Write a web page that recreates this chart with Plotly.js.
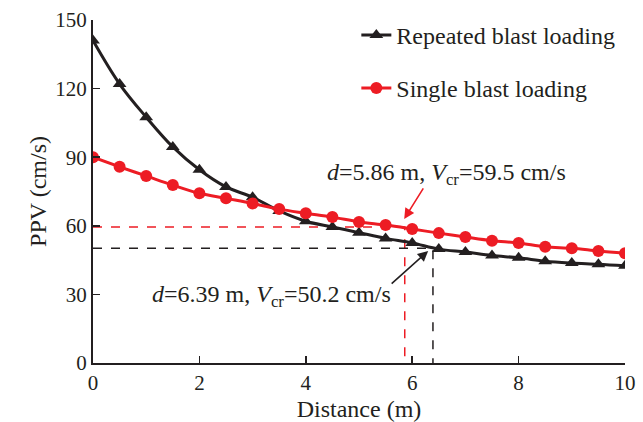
<!DOCTYPE html>
<html>
<head>
<meta charset="utf-8">
<script src="https://cdn.plot.ly/plotly-3.0.1.min.js"></script>
<style>html,body{margin:0;padding:0;background:#fff;}#chart{width:643px;height:422px;}</style>
</head>
<body>
<div id="chart"></div>
<script>
const distance = [0,0.5,1,1.5,2,2.5,3,3.5,4,4.5,5,5.5,6,6.5,7,7.5,8,8.5,9,9.5,10];
const repeatedPPV = [141,122,107.5,94.5,84.5,77,72.5,66.5,62,59.5,57,54.5,52.5,49.8,48.5,47,46,44.5,43.7,43.2,42.5];
const singlePPV = [90,85.8,81.8,77.8,74.2,72,69.8,67.3,65.5,63.8,61.7,60.3,58.6,56.8,55.1,53.5,52.5,50.8,50.2,49,48];
const singleCritD = 5.86, singleCritV = 59.5;
const repeatedCritD = 6.39, repeatedCritV = 50.2;
const xTicks = [0,2,4,6,8,10];
const yTicks = [0,30,60,90,120,150];

const family = '"Liberation Serif", "Times New Roman", serif';
const font = {family: family, size: 24, color: '#231f20'};
const tickFont = {family: family, size: 21, color: '#231f20'};

const traces = [
  {x:[0,singleCritD,singleCritD], y:[singleCritV,singleCritV,0], mode:'lines',
   line:{color:'#ed1c24', width:1.5, dash:'dash'}, showlegend:false, hoverinfo:'skip'},
  {x:[0,repeatedCritD,repeatedCritD], y:[repeatedCritV,repeatedCritV,0], mode:'lines',
   line:{color:'#231f20', width:1.5, dash:'dash'}, showlegend:false, hoverinfo:'skip'},
  {x:distance, y:repeatedPPV, mode:'lines+markers', name:'Repeated blast loading',
   line:{color:'#231f20', width:3, shape:'spline'}, marker:{symbol:'triangle-up', size:12, color:'#231f20'},
   legend:'legend'},
  {x:distance, y:singlePPV, mode:'lines+markers', name:'Single blast loading',
   line:{color:'#ed1c24', width:3, shape:'spline'}, marker:{symbol:'circle', size:12, color:'#ed1c24'},
   legend:'legend2'}
];

const layout = {
  width:643, height:422,
  margin:{l:93, r:18, t:20, b:59},
  paper_bgcolor:'#fff', plot_bgcolor:'#fff',
  font: font,
  xaxis:{range:[0,10], tickvals:xTicks, ticks:'inside', ticklen:7, tickwidth:1.5, tickcolor:'#231f20',
    showline:true, linecolor:'#231f20', linewidth:2, showgrid:false, zeroline:false,
    title:{text:'Distance (m)', font:font, standoff:8}, tickfont:tickFont},
  yaxis:{range:[0,150], tickvals:yTicks, ticks:'inside', ticklen:7, tickwidth:1.5, tickcolor:'#231f20',
    showline:true, linecolor:'#231f20', linewidth:2, showgrid:false, zeroline:false,
    title:{text:'PPV (cm/s)', font:font, standoff:2}, tickfont:tickFont},
  legend:{x:0.495, y:1.021, xanchor:'left', yanchor:'top', bgcolor:'rgba(0,0,0,0)', font:font, itemwidth:30, tracegroupgap:0},
  legend2:{x:0.495, y:0.866, xanchor:'left', yanchor:'top', bgcolor:'rgba(0,0,0,0)', font:font, itemwidth:30, tracegroupgap:0},
  annotations:[
    {x:6.65, y:82.5, xref:'x', yref:'y', text:'<i>d</i>=5.86 m, <i>V</i><sub>cr</sub>=59.5 cm/s', showarrow:false, font:font},
    {x:5.85, y:63, xref:'x', yref:'y', text:'', showarrow:true, ax:20, ay:-32, arrowcolor:'#ed1c24', arrowwidth:1.6, arrowhead:2, arrowsize:1.3},
    {x:3.36, y:29.3, xref:'x', yref:'y', text:'<i>d</i>=6.39 m, <i>V</i><sub>cr</sub>=50.2 cm/s', showarrow:false, font:font},
    {x:6.3, y:49, xref:'x', yref:'y', text:'', showarrow:true, ax:-38, ay:34, arrowcolor:'#231f20', arrowwidth:1.6, arrowhead:2, arrowsize:1.3}
  ],
  showlegend:true
};

Plotly.newPlot('chart', traces, layout, {displayModeBar:false, staticPlot:true});
</script>
</body>
</html>
